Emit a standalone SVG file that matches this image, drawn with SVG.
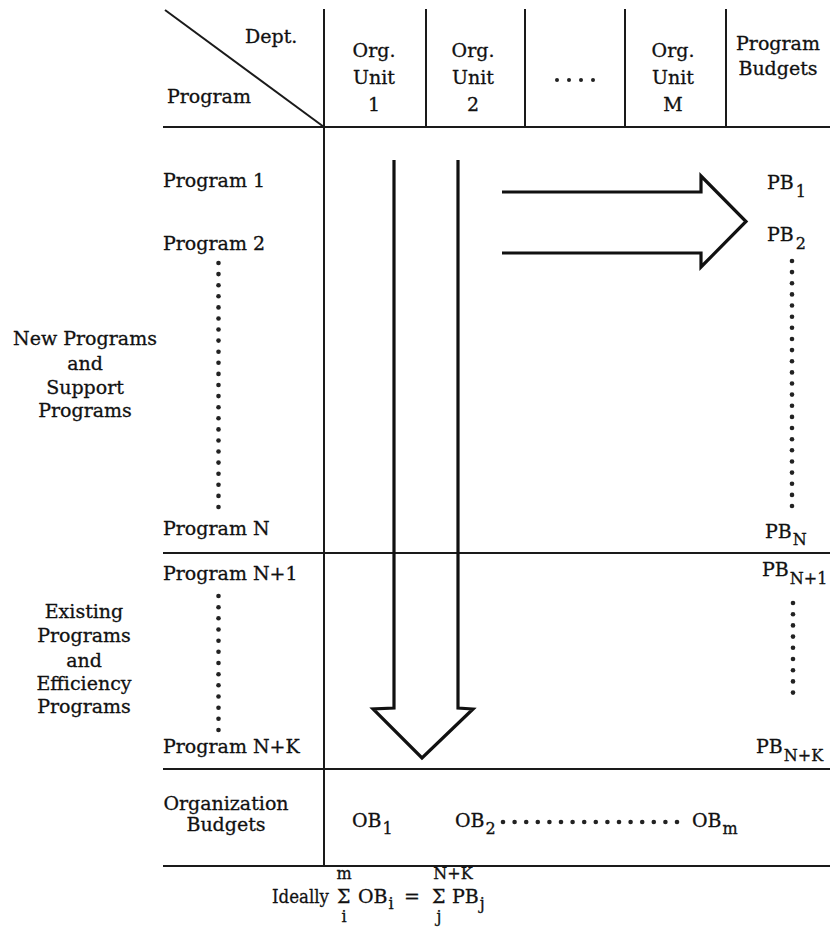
<svg xmlns="http://www.w3.org/2000/svg" width="830" height="930" viewBox="0 0 830 930">
  <defs>
    <style>
      .grid { stroke: #1a1a1a; stroke-width: 2; fill: none; }
      .arrow { stroke: #111; stroke-width: 3.2; fill: none; stroke-linejoin: miter; }
      .t { font-family: "DejaVu Serif", "Liberation Serif", serif; font-size: 19px; fill: #111; stroke: #111; stroke-width: 0.3; }
      .s { font-family: "DejaVu Serif", "Liberation Serif", serif; font-size: 16px; fill: #111; stroke: #111; stroke-width: 0.3; }
      .c { text-anchor: middle; }
      .dot { fill: #222; }
    </style>
    <circle id="d" r="2.3" class="dot"/>
  </defs>

  <rect width="830" height="930" fill="#fff"/>

  <!-- table rules -->
  <g id="table" class="grid">
    <line x1="165" y1="10" x2="324" y2="127"/>
    <line x1="324" y1="9" x2="324" y2="866"/>
    <line x1="426" y1="9" x2="426" y2="127"/>
    <line x1="525" y1="9" x2="525" y2="127"/>
    <line x1="625" y1="9" x2="625" y2="127"/>
    <line x1="726" y1="9" x2="726" y2="127"/>
    <line x1="163" y1="127" x2="830" y2="127"/>
    <line x1="163" y1="553" x2="830" y2="553"/>
    <line x1="163" y1="769" x2="830" y2="769"/>
    <line x1="163" y1="866" x2="830" y2="866"/>
  </g>

  <!-- header -->
  <g id="header">
    <text class="t" x="245" y="43">Dept.</text>
    <text class="t" x="167" y="103">Program</text>
    <g id="unit1">
      <text class="t c" x="374" y="57">Org.</text>
      <text class="t c" x="374" y="84">Unit</text>
      <text class="t c" x="374" y="111">1</text>
    </g>
    <g id="unit2">
      <text class="t c" x="473" y="57">Org.</text>
      <text class="t c" x="473" y="84">Unit</text>
      <text class="t c" x="473" y="111">2</text>
    </g>
    <g id="unit-ellipsis">
      <circle cx="557" cy="80" r="2" class="dot"/>
      <circle cx="569" cy="80" r="2" class="dot"/>
      <circle cx="581" cy="80" r="2" class="dot"/>
      <circle cx="593" cy="80" r="2" class="dot"/>
    </g>
    <g id="unitM">
      <text class="t c" x="673" y="57">Org.</text>
      <text class="t c" x="673" y="84">Unit</text>
      <text class="t c" x="673" y="111">M</text>
    </g>
    <g id="program-budgets">
      <text class="t c" x="778" y="50">Program</text>
      <text class="t c" x="778" y="75">Budgets</text>
    </g>
  </g>

  <!-- row labels -->
  <g id="programs">
    <text class="t" x="163" y="187">Program 1</text>
    <text class="t" x="163" y="250">Program 2</text>
    <text class="t" x="163" y="535">Program N</text>
    <text class="t" x="163" y="580">Program N+1</text>
    <text class="t" x="163" y="753">Program N+K</text>
  </g>

  <g id="group-new">
    <text class="t c" x="85" y="345">New Programs</text>
    <text class="t c" x="85" y="370">and</text>
    <text class="t c" x="85" y="394">Support</text>
    <text class="t c" x="85" y="417">Programs</text>
  </g>

  <g id="group-existing">
    <text class="t c" x="84" y="618">Existing</text>
    <text class="t c" x="84" y="642">Programs</text>
    <text class="t c" x="84" y="667">and</text>
    <text class="t c" x="84" y="690">Efficiency</text>
    <text class="t c" x="84" y="713">Programs</text>
  </g>

  <g id="group-org">
    <text class="t c" x="226" y="810">Organization</text>
    <text class="t c" x="226" y="831">Budgets</text>
  </g>

  <!-- dotted continuations -->
  <g id="dots-left-1">
    <use href="#d" x="218.5" y="263"/><use href="#d" x="218.5" y="274.1"/><use href="#d" x="218.5" y="285.2"/>
    <use href="#d" x="218.5" y="296.3"/><use href="#d" x="218.5" y="307.4"/><use href="#d" x="218.5" y="318.5"/>
    <use href="#d" x="218.5" y="329.5"/><use href="#d" x="218.5" y="340.6"/><use href="#d" x="218.5" y="351.7"/>
    <use href="#d" x="218.5" y="362.8"/><use href="#d" x="218.5" y="373.9"/><use href="#d" x="218.5" y="385"/>
    <use href="#d" x="218.5" y="396.1"/><use href="#d" x="218.5" y="407.2"/><use href="#d" x="218.5" y="418.3"/>
    <use href="#d" x="218.5" y="429.4"/><use href="#d" x="218.5" y="440.5"/><use href="#d" x="218.5" y="451.5"/>
    <use href="#d" x="218.5" y="462.6"/><use href="#d" x="218.5" y="473.7"/><use href="#d" x="218.5" y="484.8"/>
    <use href="#d" x="218.5" y="495.9"/><use href="#d" x="218.5" y="507"/>
  </g>
  <g id="dots-left-2">
    <use href="#d" x="218.5" y="596"/><use href="#d" x="218.5" y="607.2"/><use href="#d" x="218.5" y="618.3"/>
    <use href="#d" x="218.5" y="629.5"/><use href="#d" x="218.5" y="640.7"/><use href="#d" x="218.5" y="651.8"/>
    <use href="#d" x="218.5" y="663"/><use href="#d" x="218.5" y="674.2"/><use href="#d" x="218.5" y="685.3"/>
    <use href="#d" x="218.5" y="696.5"/><use href="#d" x="218.5" y="707.7"/><use href="#d" x="218.5" y="718.8"/>
    <use href="#d" x="218.5" y="730"/>
  </g>
  <g id="dots-right-1">
    <use href="#d" x="792" y="261"/><use href="#d" x="792" y="272.1"/><use href="#d" x="792" y="283.3"/>
    <use href="#d" x="792" y="294.4"/><use href="#d" x="792" y="305.5"/><use href="#d" x="792" y="316.7"/>
    <use href="#d" x="792" y="327.8"/><use href="#d" x="792" y="339"/><use href="#d" x="792" y="350.1"/>
    <use href="#d" x="792" y="361.2"/><use href="#d" x="792" y="372.4"/><use href="#d" x="792" y="383.5"/>
    <use href="#d" x="792" y="394.6"/><use href="#d" x="792" y="405.8"/><use href="#d" x="792" y="416.9"/>
    <use href="#d" x="792" y="428"/><use href="#d" x="792" y="439.2"/><use href="#d" x="792" y="450.3"/>
    <use href="#d" x="792" y="461.5"/><use href="#d" x="792" y="472.6"/><use href="#d" x="792" y="483.7"/>
    <use href="#d" x="792" y="494.9"/><use href="#d" x="792" y="506"/>
  </g>
  <g id="dots-right-2">
    <use href="#d" x="793" y="603"/><use href="#d" x="793" y="614.2"/><use href="#d" x="793" y="625.4"/>
    <use href="#d" x="793" y="636.6"/><use href="#d" x="793" y="647.8"/><use href="#d" x="793" y="659"/>
    <use href="#d" x="793" y="670.2"/><use href="#d" x="793" y="681.4"/><use href="#d" x="793" y="692.6"/>
  </g>

  <!-- program budgets column -->
  <g id="pb">
    <text class="t" x="767" y="189">PB<tspan class="s" dy="8" dx="2">1</tspan></text>
    <text class="t" x="767" y="241">PB<tspan class="s" dy="8" dx="2">2</tspan></text>
    <text class="t" x="765" y="538">PB<tspan class="s" dy="7" dx="1">N</tspan></text>
    <text class="t" x="762" y="576">PB<tspan class="s" dy="8" dx="1">N+1</tspan></text>
    <text class="t" x="756" y="753">PB<tspan class="s" dy="8" dx="1">N+K</tspan></text>
  </g>

  <!-- organization budgets row -->
  <g id="ob">
    <text class="t" x="352" y="827">OB<tspan class="s" dy="7" dx="1">1</tspan></text>
    <text class="t" x="455" y="827">OB<tspan class="s" dy="7" dx="1">2</tspan></text>
    <g id="dots-ob">
      <use href="#d" x="503" y="822"/><use href="#d" x="514.6" y="822"/><use href="#d" x="526.2" y="822"/>
      <use href="#d" x="537.8" y="822"/><use href="#d" x="549.4" y="822"/><use href="#d" x="561" y="822"/>
      <use href="#d" x="572.6" y="822"/><use href="#d" x="584.2" y="822"/><use href="#d" x="595.8" y="822"/>
      <use href="#d" x="607.4" y="822"/><use href="#d" x="619" y="822"/><use href="#d" x="630.6" y="822"/>
      <use href="#d" x="642.2" y="822"/><use href="#d" x="653.8" y="822"/><use href="#d" x="665.4" y="822"/>
      <use href="#d" x="677" y="822"/>
    </g>
    <text class="t" x="692" y="827">OB<tspan class="s" dy="7" dx="1">m</tspan></text>
  </g>

  <!-- flow arrows -->
  <g id="connectors" class="arrow">
    <path d="M394,160 L394,708 L373,709 L422,758 L473,709 L458,708 L458,160"/>
    <path d="M502,192 L701,192 L701,176 L746,221.5 L701,267 L701,253 L502,253"/>
  </g>

  <!-- balance condition -->
  <g id="formula">
    <text class="t" x="272" y="903" textLength="57" lengthAdjust="spacingAndGlyphs">Ideally</text>
    <text class="t" x="337" y="903">Σ</text>
    <text class="s c" x="344" y="879">m</text>
    <text class="s c" x="344" y="922">i</text>
    <text class="t" x="358" y="903">OB<tspan class="s" dy="6" dx="1">i</tspan></text>
    <text class="t" x="404" y="903">=</text>
    <text class="t" x="432" y="903">Σ</text>
    <text class="s c" x="453" y="879">N+K</text>
    <text class="s c" x="439" y="922">j</text>
    <text class="t" x="452" y="903">PB<tspan class="s" dy="6" dx="1">j</tspan></text>
  </g>
</svg>
